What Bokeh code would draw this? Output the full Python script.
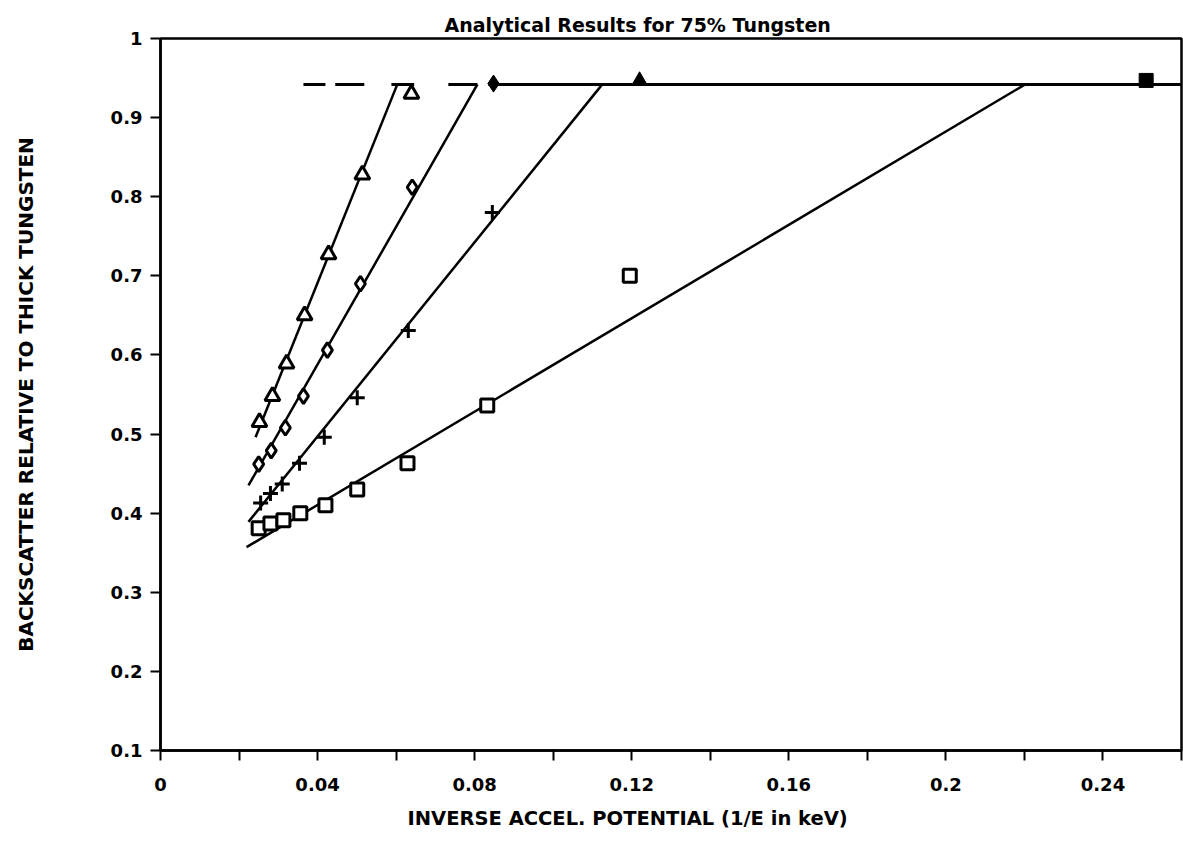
from bokeh.plotting import figure
from bokeh.models import FixedTicker, Range1d, Title
from bokeh.embed import file_html
from bokeh.resources import INLINE

# ---------------- data ----------------
# inverse accelerating potential 1/E (1/keV) and relative backscatter
tri_x = [0.0252, 0.0285, 0.0321, 0.0367, 0.0428, 0.0514, 0.0639]
tri_y = [0.515, 0.548, 0.589, 0.650, 0.727, 0.828, 0.930]

dia_x = [0.0250, 0.0282, 0.0318, 0.0364, 0.0425, 0.0509, 0.0641]
dia_y = [0.462, 0.479, 0.508, 0.548, 0.606, 0.690, 0.812]

crs_x = [0.0255, 0.0280, 0.0310, 0.0354, 0.0417, 0.0501, 0.0631, 0.0845]
crs_y = [0.413, 0.425, 0.437, 0.463, 0.496, 0.546, 0.631, 0.780]

sq_x = [0.0250, 0.0280, 0.0313, 0.0356, 0.0420, 0.0501, 0.0629, 0.0832, 0.1195]
sq_y = [0.381, 0.387, 0.391, 0.400, 0.410, 0.430, 0.463, 0.536, 0.700]

# points lying on the saturation level (drawn filled)
sat_dia_x = [0.0848]
sat_dia_y = [0.943]
sat_tri_x = [0.1220]
sat_tri_y = [0.947]
sat_sq_x = [0.2510]
sat_sq_y = [0.947]

# fitted straight lines (start and end where they reach saturation)
fit_tri_x = [0.0242, 0.0603]
fit_tri_y = [0.496, 0.942]
fit_dia_x = [0.0224, 0.0807]
fit_dia_y = [0.435, 0.942]
fit_crs_x = [0.0224, 0.1125]
fit_crs_y = [0.389, 0.942]
fit_sq_x = [0.0219, 0.2202]
fit_sq_y = [0.357, 0.942]

# saturation level, drawn in pieces as in the original
sat_level = 0.942
sat_x0 = [0.0364, 0.0445, 0.0588, 0.0733, 0.0835]
sat_x1 = [0.0420, 0.0519, 0.0646, 0.0807, 0.2600]

# axes
x_ticks = [0.0, 0.04, 0.08, 0.12, 0.16, 0.2, 0.24]
x_tick_labels = ["0", "0.04", "0.08", "0.12", "0.16", "0.2", "0.24"]
x_minor = [0.02, 0.06, 0.10, 0.14, 0.18, 0.22, 0.26]
y_ticks = [0.1, 0.2, 0.3, 0.4, 0.5, 0.6, 0.7, 0.8, 0.9, 1.0]
y_tick_labels = ["0.1", "0.2", "0.3", "0.4", "0.5", "0.6", "0.7", "0.8", "0.9", "1"]

title_text = "Analytical Results for 75% Tungsten"
x_title = "INVERSE ACCEL. POTENTIAL (1/E in keV)"
y_title = "BACKSCATTER RELATIVE TO THICK TUNGSTEN"

FONT = "DejaVu Sans"

p = figure(width=1183, height=853,
           x_range=Range1d(0, 0.26), y_range=Range1d(0.1, 1.0),
           output_backend="svg", toolbar_location=None,
           min_border_left=160, min_border_right=2,
           min_border_top=38, min_border_bottom=103,
           title=title_text)
p.grid.visible = False
p.outline_line_color = "black"
p.outline_line_width = 2.5
p.background_fill_color = "white"
p.border_fill_color = "white"

p.title.align = "left"
p.title.offset = 284
p.title.text_font = FONT
p.title.text_font_style = "bold"
p.title.text_font_size = "19px"
p.title.text_color = "black"
p.title.standoff = 6

for ax in (p.xaxis[0], p.yaxis[0]):
    ax.axis_line_width = 2.5
    ax.axis_line_color = "black"
    ax.major_tick_line_width = 2
    ax.minor_tick_line_width = 2
    ax.major_tick_in = 0
    ax.major_tick_out = 10
    ax.minor_tick_in = 0
    ax.major_label_text_font = FONT
    ax.major_label_text_font_style = "bold"
    ax.major_label_text_font_size = "18px"
    ax.major_label_text_color = "black"
    ax.axis_label_text_font = FONT
    ax.axis_label_text_font_style = "bold"
    ax.axis_label_text_font_size = "20px"
    ax.axis_label_text_color = "black"

p.xaxis.ticker = FixedTicker(ticks=x_ticks, minor_ticks=x_minor)
p.xaxis.major_label_overrides = dict(zip(x_ticks, x_tick_labels))
p.xaxis.minor_tick_out = 10
p.xaxis.major_label_standoff = 17

p.yaxis.ticker = FixedTicker(ticks=y_ticks, minor_ticks=[])
p.yaxis.major_label_overrides = dict(zip(y_ticks, y_tick_labels))
p.yaxis.minor_tick_out = 0
p.yaxis.major_label_standoff = 8
p.yaxis.axis_label = y_title
p.yaxis.axis_label_standoff = 70

# x axis title, below the tick labels, shifted left as in the original
p.add_layout(Title(text=x_title, align="left", offset=247, standoff=22,
                   text_font=FONT, text_font_style="bold",
                   text_font_size="19.5px", text_color="black"), "below")

# fitted lines
for fx, fy in ((fit_tri_x, fit_tri_y), (fit_dia_x, fit_dia_y),
               (fit_crs_x, fit_crs_y), (fit_sq_x, fit_sq_y)):
    p.line(fx, fy, line_color="black", line_width=2.5)

# saturation level
p.segment(x0=sat_x0, y0=[sat_level] * len(sat_x0), x1=sat_x1,
          y1=[sat_level] * len(sat_x1), line_color="black", line_width=3)

# open markers
p.scatter(tri_x, tri_y, marker="triangle", size=15, line_color="black",
          line_width=3, fill_color="white")
p.scatter(dia_x, dia_y, marker="diamond", size=15, line_color="black",
          line_width=3, fill_color="white")
p.scatter(crs_x, crs_y, marker="cross", size=15, line_color="black",
          line_width=3)
p.scatter(sq_x, sq_y, marker="square", size=13, line_color="black",
          line_width=3, fill_color="white")

# filled markers on the saturation level
p.scatter(sat_dia_x, sat_dia_y, marker="diamond", size=17, color="black")
p.scatter(sat_tri_x, sat_tri_y, marker="triangle", size=15, color="black")
p.scatter(sat_sq_x, sat_sq_y, marker="square", size=14, color="black")

open("out.html", "w").write(file_html(p, INLINE))
